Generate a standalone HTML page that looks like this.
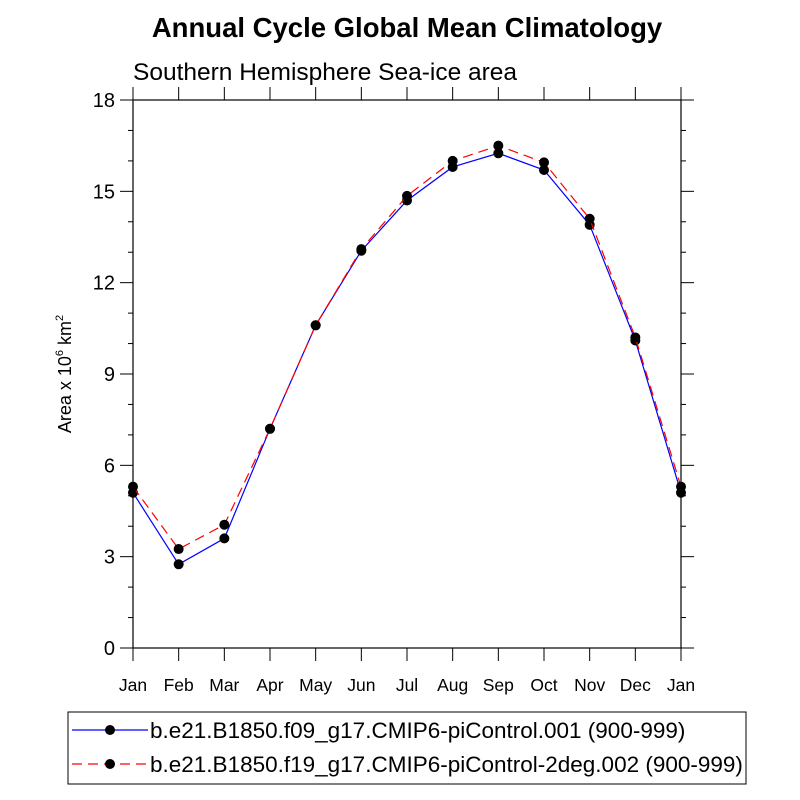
<!DOCTYPE html>
<html><head><meta charset="utf-8"><style>
body{margin:0;background:#fff}
svg{display:block;font-family:"Liberation Sans",Arial,sans-serif}
</style></head><body>
<svg id="chart" width="800" height="800" viewBox="0 0 800 800">
<text x="407" y="37" text-anchor="middle" font-size="27.5" font-weight="bold">Annual Cycle Global Mean Climatology</text>
<text x="133" y="80" font-size="24.5">Southern Hemisphere Sea-ice area</text>
<text transform="translate(71,374) rotate(-90)" text-anchor="middle" font-size="18">Area x 10<tspan font-size="11" dy="-8">6</tspan><tspan dy="8"> km</tspan><tspan font-size="11" dy="-8">2</tspan></text>
<g id="axes"></g>
<g id="series"></g>
<g>
<rect x="68" y="712" width="678" height="72" fill="#fff" stroke="#000" stroke-width="1"/>
<g>
<line x1="72" y1="730" x2="148" y2="730" stroke="#00f" stroke-width="1.2"/>
<circle cx="110" cy="730" r="5" fill="#000"/>
<text x="150" y="738" font-size="22.5">b.e21.B1850.f09_g17.CMIP6-piControl.001 (900-999)</text>
</g>
<g>
<line x1="72" y1="764" x2="148" y2="764" stroke="#f00" stroke-width="1.2" stroke-dasharray="10,6"/>
<circle cx="110" cy="764" r="5" fill="#000"/>
<text x="150" y="772" font-size="22.5">b.e21.B1850.f19_g17.CMIP6-piControl-2deg.002 (900-999)</text>
</g>
</g>
</svg>
<script>
const months = ["Jan","Feb","Mar","Apr","May","Jun","Jul","Aug","Sep","Oct","Nov","Dec","Jan"];
const seriesBlue = [5.1,2.75,3.6,7.2,10.6,13.05,14.7,15.8,16.25,15.7,13.9,10.1,5.1];
const seriesRed = [5.3,3.25,4.05,7.2,10.6,13.1,14.85,16.0,16.5,15.95,14.1,10.2,5.3];
const yTicks = [0,3,6,9,12,15,18];
const NS="http://www.w3.org/2000/svg";
const L=133,R=681,T=100,B=648,YMAX=18;
const xs=i=>L+(R-L)*i/(months.length-1);
const ys=v=>B-(B-T)*v/YMAX;
function mk(tag,attrs,parent){const e=document.createElementNS(NS,tag);for(const k in attrs)e.setAttribute(k,attrs[k]);parent.appendChild(e);return e;}
const ax=document.getElementById('axes');
const frame=mk('rect',{x:L,y:T,width:R-L,height:B-T,fill:'none',stroke:'#000','stroke-width':1.2},ax);


for(let v=0;v<=YMAX;v++){
  const major=yTicks.includes(v);const len=major?13:5;const y=ys(v);
  mk('line',{x1:L-len,y1:y,x2:L,y2:y,stroke:'#000'},ax);
  mk('line',{x1:R,y1:y,x2:R+len,y2:y,stroke:'#000'},ax);
}
yTicks.forEach(v=>{
  const t=mk('text',{x:L-18,y:ys(v)+7,'text-anchor':'end','font-size':20},ax);
  t.textContent=v;
  
  
});
months.forEach((m,i)=>{
  const x=xs(i);
  mk('line',{x1:x,y1:B,x2:x,y2:B+13,stroke:'#000'},ax);
  mk('line',{x1:x,y1:T-13,x2:x,y2:T,stroke:'#000'},ax);
  const t=mk('text',{x:x,y:B+43,'text-anchor':'middle','font-size':17.5},ax);
  t.textContent=m;
  
  
});
const sg=document.getElementById('series');
function draw(vals,color,dash,name){
  const g=mk('g',{},sg);
  
  
  const pts=vals.map((v,i)=>xs(i)+','+ys(v)).join(' ');
  const a={points:pts,fill:'none',stroke:color,'stroke-width':1.2};
  if(dash)a['stroke-dasharray']=dash;
  mk('polyline',a,g);
  vals.forEach((v,i)=>{
    const c=mk('circle',{cx:xs(i),cy:ys(v),r:5,fill:'#000'},g);
    
    
  });
}
draw(seriesBlue,'#00f',null,'series-blue');
draw(seriesRed,'#f00','10,6','series-red');
</script>
</body></html>
